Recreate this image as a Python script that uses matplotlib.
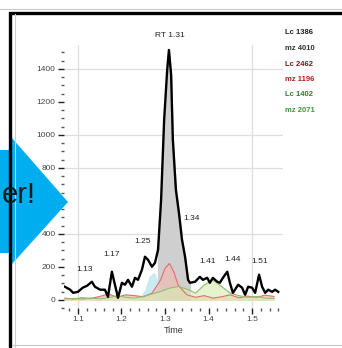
import numpy as np
import matplotlib
matplotlib.use('Agg')
import matplotlib.pyplot as plt
from matplotlib.patches import Polygon
from matplotlib.ticker import MultipleLocator

plt.rcParams['font.family'] = ['Liberation Sans', 'DejaVu Sans']

# total ion trace
time = [1.070, 1.082, 1.089, 1.100, 1.111, 1.121, 1.132, 1.139, 1.151, 1.162,
        1.169, 1.178, 1.185, 1.192, 1.201, 1.208, 1.215, 1.224, 1.231, 1.238,
        1.247, 1.254, 1.261, 1.270, 1.277, 1.284, 1.291, 1.298, 1.305, 1.309,
        1.314, 1.318, 1.325, 1.332, 1.339, 1.346, 1.353, 1.357, 1.369, 1.380,
        1.387, 1.397, 1.403, 1.410, 1.420, 1.426, 1.433, 1.443, 1.449, 1.456,
        1.468, 1.477, 1.484, 1.491, 1.500, 1.507, 1.516, 1.523, 1.530, 1.537,
        1.546, 1.553, 1.560]
tic = [79, 61, 42, 48, 73, 85, 109, 79, 61, 61,
       18, 170, 91, 12, 103, 91, 121, 79, 133, 121,
       182, 261, 242, 200, 224, 303, 606, 1091, 1394, 1515,
       1364, 970, 667, 527, 364, 261, 121, 103, 109, 139,
       121, 133, 103, 133, 109, 103, 133, 170, 103, 42,
       91, 73, 30, 79, 73, 42, 152, 79, 42, 61,
       48, 61, 48]

# extracted ion traces
xic_time = [1.07, 1.09, 1.11, 1.13, 1.15, 1.17, 1.19, 1.21, 1.23, 1.25, 1.27,
            1.29, 1.30, 1.31, 1.32, 1.33, 1.35, 1.37, 1.39, 1.41, 1.43, 1.45,
            1.47, 1.49, 1.51, 1.53, 1.55]
red = [10, 5, 12, 8, 20, 35, 15, 30, 25, 18, 40,
       120, 190, 220, 170, 90, 30, 15, 25, 10, 18, 30,
       12, 22, 15, 28, 20]
green = [5, 8, 4, 10, 6, 12, 25, 15, 10, 20, 35,
         50, 60, 70, 75, 80, 65, 40, 90, 120, 80, 40,
         25, 15, 20, 10, 8]
cyan_time = [1.24, 1.255, 1.265, 1.275, 1.285, 1.295]
cyan = [0, 60, 140, 160, 90, 0]

peak_labels = ['RT 1.31', '1.34', '1.25', '1.17', '1.13', '1.41', '1.44', '1.51']
peak_x = [1.311, 1.342, 1.249, 1.178, 1.116, 1.397, 1.456, 1.518]
peak_y = [1582, 473, 333, 255, 164, 212, 224, 212]
peak_ha = ['center', 'left', 'center', 'center', 'center', 'center', 'center', 'center']

legend_lines = ['Lc 1386', 'mz 4010', 'Lc 2462', 'mz 1196', 'Lc 1402', 'mz 2071']
legend_colors = ['#222222', '#333333', '#7a1a1a', '#b02020', '#2e7d2e', '#3a9a3a']

W, H = 342, 348
fig = plt.figure(figsize=(W / 100, H / 100), dpi=100)
fig.patch.set_facecolor('white')

ax = fig.add_axes([64 / W, (H - 308) / H, (283 - 64) / W, (308 - 45) / H])
ax.set_xlim(1.068, 1.571)
ax.set_ylim(-50, 1545)

for gy in [1400, 1000, 800, 400]:
    ax.axhline(gy, color='#dedede', lw=0.9, zorder=0)
for gx in [1.1, 1.5]:
    ax.axvline(gx, color='#dedede', lw=0.9, zorder=0)

t = np.array(time)
v = np.array(tic)
ax.fill_between(t, 0, v, where=(t >= 1.284) & (t <= 1.357), color='#cfcfcf', zorder=1)
ax.fill_between(cyan_time, 0, cyan, color='#bfe6f2', alpha=0.8, zorder=1)
ax.fill_between(xic_time, 0, red, color='#f4b8b0', alpha=0.6, zorder=1)
ax.fill_between(xic_time, 0, green, color='#d8ecb0', alpha=0.6, zorder=1)
ax.plot(xic_time, red, color='#e07070', lw=0.8, zorder=2)
ax.plot(xic_time, green, color='#8cc070', lw=0.8, zorder=2)
ax.plot(time, tic, color='black', lw=1.7, zorder=3)

for lab, px, py, ha in zip(peak_labels, peak_x, peak_y, peak_ha):
    ax.text(px, py, lab, ha=ha, va='bottom', fontsize=6, color='#222222',
            clip_on=False, zorder=4)

for s in ax.spines.values():
    s.set_visible(False)
ax.yaxis.set_major_locator(MultipleLocator(200))
ax.yaxis.set_minor_locator(MultipleLocator(50))
ax.xaxis.set_major_locator(MultipleLocator(0.1))
ax.xaxis.set_minor_locator(MultipleLocator(0.02))
ax.set_yticks(np.arange(0, 1401, 200))
ax.tick_params(axis='both', which='major', length=4, width=1, color='#222222',
               labelsize=6, labelcolor='#444444', pad=2)
ax.tick_params(axis='both', which='minor', length=2, width=1, color='#555555')
ax.set_xlabel('Time', fontsize=6.5, color='#333333', labelpad=2)

for i, (txt, c) in enumerate(zip(legend_lines, legend_colors)):
    fig.text(285 / W, 1 - (33 + i * 15.5) / H, txt, fontsize=5.5, color=c,
             fontweight='bold', va='center', ha='left')

# frame and arrow drawn in pixel space on top
ov = fig.add_axes([0, 0, 1, 1], zorder=10)
ov.set_xlim(0, W)
ov.set_ylim(H, 0)
ov.axis('off')
ov.patch.set_alpha(0)
ov.plot([0, W], [9, 9], color='#c8c8c8', lw=0.8)
ov.plot([9.5, 9.5, W], [H, 12.5, 12.5], color='black', lw=2.4, solid_joinstyle='miter')
ov.plot([15, 15], [14, H], color='#d0d0d0', lw=0.8)
ov.plot([12, W], [345, 345], color='#c8c8c8', lw=0.8)

arrow = Polygon([(0, 150), (12, 150), (12, 138), (68, 202), (12, 264),
                 (12, 253), (0, 253)], closed=True, facecolor='#00aeef',
                edgecolor='none')
ov.add_patch(arrow)
ov.text(36, 203, 'er!', ha='right', va='baseline', fontsize=21, color='#1a1a1a')

fig.savefig('out.png', dpi=100)
